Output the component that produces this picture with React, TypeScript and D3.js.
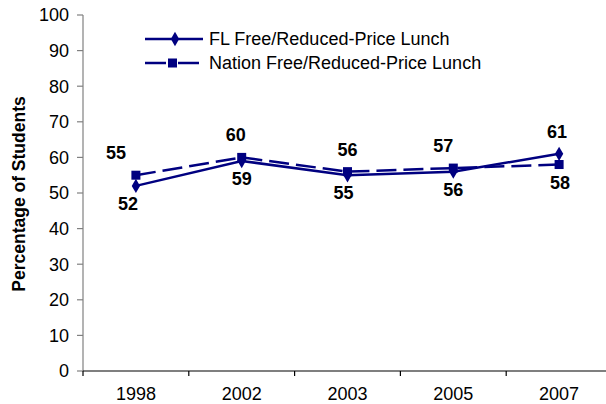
import React from 'react'
import * as d3 from 'd3'

const years = ['1998', '2002', '2003', '2005', '2007']
const flLunch = [52, 59, 55, 56, 61]
const nationLunch = [55, 60, 56, 57, 58]
const yTicks = [0, 10, 20, 30, 40, 50, 60, 70, 80, 90, 100]

// label placement per point: 'a' above, 'b' below
const flPlace = ['b', 'b', 'b', 'b', 'a']
const nationPlace = ['a', 'a', 'a', 'a', 'b']
const flShift = [-8, 0, -4, 0, -2]
const nationShift = [-20, -6, 0, -10, 1]

const NAVY = '#000080'
const FONT = 'Arial, "Liberation Sans", Helvetica, sans-serif'

export default function App() {
  const width = 606
  const height = 404
  const axisX = 83
  const bandW = 105.8

  const x = d3.scaleBand().domain(years).range([axisX, axisX + bandW * years.length]).paddingInner(0).paddingOuter(0)
  const y = d3.scaleLinear().domain([0, 100]).range([371, 15])
  const cx = (yr: string) => (x(yr) as number) + x.bandwidth() / 2

  const line = d3.line<number>().x((_, i) => cx(years[i])).y(v => y(v))
  const diamond = d3.symbol().type(d3.symbolDiamond).size(60)

  const labelY = (v: number, place: string) => place === 'a' ? y(v) - 16 : y(v) + 24

  return (
    <svg width={width} height={height} style={{ position: 'absolute', left: 0, top: 0, background: '#fff' }} fontFamily={FONT}>
      {/* y axis */}
      <line x1={axisX} x2={axisX} y1={y(100)} y2={y(0)} stroke="#808080" strokeWidth={1.2} />
      {yTicks.map(t => (
        <g key={t}>
          <line x1={axisX - 6} x2={axisX} y1={y(t)} y2={y(t)} stroke="#808080" strokeWidth={1.2} />
          <text x={axisX - 14} y={y(t)} dy="0.36em" textAnchor="end" fontSize={18} fill="#000">{t}</text>
        </g>
      ))}
      <text transform={`translate(25,${y(50) + 1}) rotate(-90)`} textAnchor="middle" fontSize={17.5} fontWeight="bold" fill="#000">Percentage of Students</text>

      {/* x axis */}
      <line x1={axisX} x2={width} y1={y(0)} y2={y(0)} stroke="#000" strokeWidth={1.2} />
      {years.map(yr => (
        <g key={yr}>
          <line x1={x(yr) as number} x2={x(yr) as number} y1={y(0)} y2={y(0) + 5} stroke="#000" strokeWidth={1.2} />
          <text x={cx(yr)} y={400} textAnchor="middle" fontSize={18} fill="#000">{yr}</text>
        </g>
      ))}

      {/* series */}
      <path d={line(nationLunch) || ''} fill="none" stroke={NAVY} strokeWidth={2.5} strokeDasharray="20,7" />
      <path d={line(flLunch) || ''} fill="none" stroke={NAVY} strokeWidth={2.5} />
      {nationLunch.map((v, i) => (
        <rect key={`n${i}`} x={cx(years[i]) - 4.5} y={y(v) - 4.5} width={9} height={9} fill={NAVY} />
      ))}
      {flLunch.map((v, i) => (
        <path key={`f${i}`} d={diamond() || ''} transform={`translate(${cx(years[i])},${y(v)})`} fill={NAVY} />
      ))}

      {/* data labels */}
      {nationLunch.map((v, i) => (
        <text key={`nl${i}`} x={cx(years[i]) + nationShift[i]} y={labelY(v, nationPlace[i])} textAnchor="middle" fontSize={18} fontWeight="bold" fill="#000">{v}</text>
      ))}
      {flLunch.map((v, i) => (
        <text key={`fl${i}`} x={cx(years[i]) + flShift[i]} y={labelY(v, flPlace[i])} textAnchor="middle" fontSize={18} fontWeight="bold" fill="#000">{v}</text>
      ))}

      {/* legend */}
      <g>
        <line x1={145} x2={203} y1={39} y2={39} stroke={NAVY} strokeWidth={2.5} />
        <path d={diamond() || ''} transform="translate(175,39)" fill={NAVY} />
        <text x={209} y={39} dy="0.36em" fontSize={18} fill="#000">FL Free/Reduced-Price Lunch</text>
        <line x1={145} x2={166} y1={63} y2={63} stroke={NAVY} strokeWidth={2.5} />
        <line x1={178} x2={199} y1={63} y2={63} stroke={NAVY} strokeWidth={2.5} />
        <rect x={168} y={58.5} width={9} height={9} fill={NAVY} />
        <text x={209} y={63} dy="0.36em" fontSize={18} fill="#000">Nation Free/Reduced-Price Lunch</text>
      </g>
    </svg>
  )
}
